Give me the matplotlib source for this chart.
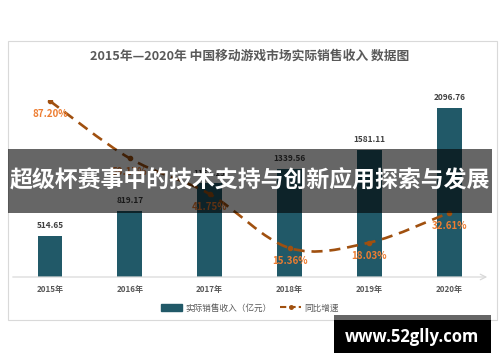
import numpy as np
import matplotlib
matplotlib.use("Agg")
import matplotlib.pyplot as plt
from matplotlib.patches import Rectangle, Patch
from matplotlib.lines import Line2D
from matplotlib.path import Path
from matplotlib.patches import PathPatch

plt.rcParams['font.family'] = ['Noto Sans CJK SC', 'DejaVu Sans']

YEARS = ["2015年", "2016年", "2017年", "2018年", "2019年", "2020年"]
REVENUE = [514.65, 819.17, 1161.15, 1339.56, 1581.11, 2096.76]
GROWTH = [87.20, 59.17, 41.75, 15.36, 18.03, 32.61]
TITLE = "2015年—2020年 中国移动游戏市场实际销售收入 数据图"
BANNER = "超级杯赛事中的技术支持与创新应用探索与发展"
WATERMARK = "www.52glly.com"

W, H = 500, 362
BAR_C = "#215968"
LINE_C = "#A0500F"
PCT_C = "#ED7D31"
GREY = "#595959"


def px(x0, y0, x1, y1):
    """pixel box (top-left origin) -> figure fraction rect"""
    return [x0 / W, 1 - y1 / H, (x1 - x0) / W, (y1 - y0) / H]


fig = plt.figure(figsize=(W / 100, H / 100), dpi=100)
fig.patch.set_facecolor("white")

# chart frame
fig.patches.append(Rectangle((8 / W, 1 - 320 / H), 489 / W, 279 / H, transform=fig.transFigure,
                             fill=False, ec="#d9d9d9", lw=0.8, zorder=0))
fig.text(250 / W, 1 - 56 / H, TITLE, ha="center", va="center", fontsize=9.2,
         fontweight="bold", color=GREY)

ax = fig.add_axes(px(10, 100, 490, 277))
ax.patch.set_alpha(0)
x = np.arange(len(YEARS))
ax.bar(x, REVENUE, width=0.31, color=BAR_C, zorder=2)
ax.set_xlim(-0.5, 5.51)
ax.set_ylim(0, 2196)
for xi, v in zip(x, REVENUE):
    ax.annotate(f"{v:.2f}", (xi, v), xytext=(0, 4), textcoords="offset points", ha="center",
                va="bottom", fontsize=6, fontweight="bold", color="#404040")
for s in ax.spines.values():
    s.set_visible(False)
ax.set_yticks([])
ax.set_xticks(x, YEARS)
ax.tick_params(axis="x", length=0, pad=6, labelsize=5.8, labelcolor=GREY)
for t in ax.get_xticklabels():
    t.set_fontweight("bold")
ax.annotate("", xy=(1.0, 0), xytext=(0.0, 0), xycoords="axes fraction",
            arrowprops=dict(arrowstyle="->", color="#d9d9d9", lw=0.9))

ax2 = ax.twinx()
ax2.set_ylim(1.2, 87.7)
ax2.set_yticks([])
for s in ax2.spines.values():
    s.set_visible(False)

# smooth (Catmull-Rom style) dashed line, built in pixel-proportional space
sx, sy = 79.8, 2.046
P = np.column_stack([x * sx, np.array(GROWTH) * sy])
verts = [tuple(P[0])]
codes = [Path.MOVETO]
for i in range(len(P) - 1):
    p0 = P[max(i - 1, 0)]
    p1, p2 = P[i], P[i + 1]
    p3 = P[min(i + 2, len(P) - 1)]
    c1 = p1 + (p2 - p0) / 6
    c2 = p2 - (p3 - p1) / 6
    verts += [tuple(c1), tuple(c2), tuple(p2)]
    codes += [Path.CURVE4] * 3
verts = [(vx / sx, vy / sy) for vx, vy in verts]
ax2.add_patch(PathPatch(Path(verts, codes), fill=False, ec=LINE_C, lw=1.9,
                        ls=(0, (4.2, 2.6)), zorder=3))
ax2.plot(x, GROWTH, ls="none", marker="o", ms=3, color=LINE_C, zorder=4)
for xi, g in zip(x, GROWTH):
    ax2.annotate(f"{g:.2f}%", (xi, g), xytext=(0, -9.5), textcoords="offset points",
                 ha="center", va="center", fontsize=7, fontweight="bold", color=PCT_C)

# legend
handles = [Patch(color=BAR_C),
           Line2D([0], [0], color=LINE_C, lw=1.5, ls=(0, (3, 1.5)), marker="o", ms=2.5)]
fig.legend(handles, ["实际销售收入（亿元）", "同比增速"], loc="center", ncol=2,
           bbox_to_anchor=(250 / W, 1 - 308 / H), frameon=False, fontsize=6.2,
           labelcolor=GREY, handlelength=2.4, columnspacing=1.0, handletextpad=0.4)

# overlay banner
fig.patches.append(Rectangle((8 / W, 1 - 213 / H), 484 / W, 64 / H, transform=fig.transFigure,
                             fc="black", alpha=0.6, ec="none", zorder=10))
fig.text(250 / W, 1 - 181 / H, BANNER, ha="center", va="center", fontsize=16.5,
         fontweight="bold", color="white", zorder=11)

# watermark
fig.patches.append(Rectangle((334 / W, 1 - 320 / H), 157 / W, 5 / H, transform=fig.transFigure,
                             fc="#666666", ec="none", zorder=10))
fig.patches.append(Rectangle((334 / W, 1 - 353 / H), 157 / W, 33 / H, transform=fig.transFigure,
                             fc="black", ec="none", zorder=10))
fig.text(412 / W, 1 - 337 / H, WATERMARK, ha="center", va="center", fontsize=12,
         fontweight="bold", color="white", zorder=11, family=["Open Sans", "DejaVu Sans"])

fig.savefig("out.png", dpi=100)
